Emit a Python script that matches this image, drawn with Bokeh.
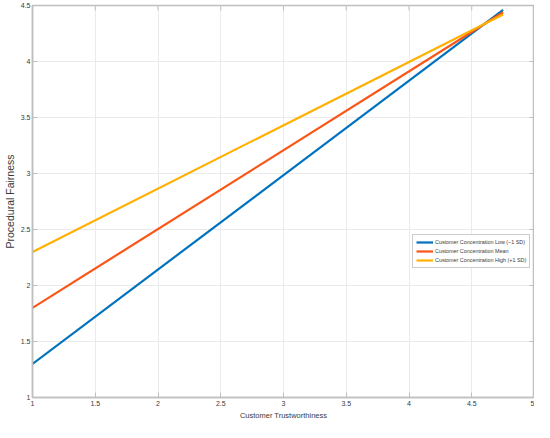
from bokeh.plotting import figure
from bokeh.models import Legend, LegendItem, Range1d, FixedTicker
from bokeh.embed import file_html
from bokeh.resources import INLINE
import math

# data
x_vals = [1.0, 4.75]
low_sd = [1.30, 4.46]
mean_cc = [1.80, 4.44]
high_sd = [2.30, 4.42]
series_names = ["Customer Concentration Low (\u22121 SD)",
                "Customer Concentration Mean",
                "Customer Concentration High (+1 SD)"]
x_ticks = [1, 1.5, 2, 2.5, 3, 3.5, 4, 4.5, 5]
y_ticks = [1, 1.5, 2, 2.5, 3, 3.5, 4, 4.5]

colors = ["#0072BD", "#FA5514", "#FFB000"]
FONT = "Liberation Sans"
AX = "#BFBFBF"
TXT = "#3a3a3a"

p = figure(width=534, height=422, output_backend="svg", toolbar_location=None,
           x_range=Range1d(1, 5), y_range=Range1d(1, 4.5),
           min_border_left=0, min_border_right=0, min_border_top=5, min_border_bottom=0)
p.outline_line_color = AX
p.outline_line_width = 1.5
p.background_fill_color = "white"
p.border_fill_color = "white"

p.xgrid.grid_line_color = "#EBEBEB"
p.ygrid.grid_line_color = "#EBEBEB"
p.xgrid.ticker = FixedTicker(ticks=x_ticks)
p.ygrid.ticker = FixedTicker(ticks=y_ticks)

# inward ticks on the top and right sides of the box (half of each dash is clipped)
p.scatter(x_ticks, [4.5] * len(x_ticks), marker="dash", angle=math.pi / 2, size=10,
          line_color=AX, line_width=1)
p.scatter([5] * len(y_ticks), y_ticks, marker="dash", size=10,
          line_color=AX, line_width=1)

rs = []
for ys, c in zip([low_sd, mean_cc, high_sd], colors):
    rs.append(p.line(x_vals, ys, line_color=c, line_width=2.2))

for ax in [p.xaxis[0], p.yaxis[0]]:
    ax.axis_line_color = AX
    ax.axis_line_width = 1.5
    ax.major_tick_in = 5
    ax.major_tick_out = 0
    ax.major_tick_line_color = AX
    ax.minor_tick_line_color = None
    ax.major_label_text_font = FONT
    ax.major_label_text_font_size = "7px"
    ax.major_label_text_color = TXT
    ax.axis_label_text_font = FONT
    ax.axis_label_text_font_style = "normal"
    ax.axis_label_text_color = TXT
    ax.major_label_standoff = 3
    ax.axis_label_standoff = 2

p.xaxis[0].ticker = FixedTicker(ticks=x_ticks)
p.yaxis[0].ticker = FixedTicker(ticks=y_ticks)
p.xaxis[0].axis_label = "Customer Trustworthiness"
p.xaxis[0].axis_label_text_font_size = "7.5px"
p.yaxis[0].axis_label = "Procedural Fairness"
p.yaxis[0].axis_label_text_font_size = "10.5px"
p.yaxis[0].major_label_standoff = 2

legend = Legend(items=[LegendItem(label=n, renderers=[r]) for n, r in zip(series_names, rs)],
                location=(380, 129))
legend.label_text_font = FONT
legend.label_text_font_size = "5.4px"
legend.label_text_color = TXT
legend.glyph_width = 17
legend.glyph_height = 8
legend.label_height = 8
legend.label_standoff = 2
legend.spacing = 1
legend.padding = 3
legend.margin = 0
legend.border_line_color = "#9a9a9a"
legend.border_line_width = 1
legend.background_fill_alpha = 1
p.add_layout(legend, "center")

open("out.html", "w").write(file_html(p, INLINE))
